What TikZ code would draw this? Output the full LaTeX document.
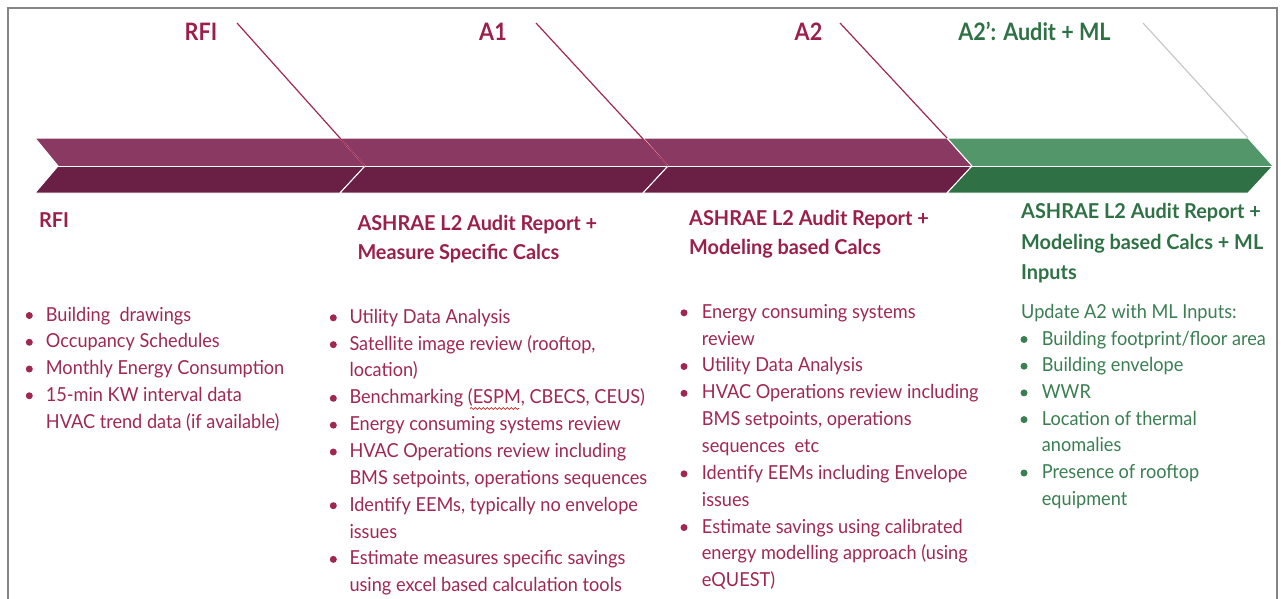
\documentclass[tikz,border=0pt]{standalone}
\usepackage{fontspec}
\setmainfont{Lato}
\newfontfamily\bodyfont{Lato}[FakeStretch=0.94]
\newfontfamily\headfont{Lato}[FakeStretch=0.97]
\newfontfamily\condfont{Lato}[FakeStretch=0.9]
\usetikzlibrary{decorations.pathmorphing}

\definecolor{plum}{HTML}{8A3A62}
\definecolor{plumdark}{HTML}{6A2045}
\definecolor{sage}{HTML}{529669}
\definecolor{forest}{HTML}{2F7145}
\definecolor{crimson}{HTML}{A02850}
\definecolor{crimsonhead}{HTML}{9B1F49}
\definecolor{greentext}{HTML}{3A7E52}
\definecolor{greenhead}{HTML}{2E7145}
\definecolor{framegray}{HTML}{858585}
\definecolor{leadgray}{HTML}{C8C8C8}

\tikzset{
  bodytext/.style={anchor=base west, inner sep=0pt, font=\bodyfont\fontsize{19.3}{23}\selectfont},
  headtext/.style={anchor=base west, inner sep=0pt, font=\headfont\fontsize{20.5}{24}\selectfont\bfseries},
  stagelabel/.style={anchor=base, inner sep=0pt, font=\condfont\bfseries\fontsize{24}{24}\selectfont},
  dotbullet/.style={circle, fill, inner sep=0pt, minimum size=7pt},
  bandhalf/.style={draw=white, line width=1pt, line join=miter},
  leader/.style={line width=1.2pt, crimson},
}

% one chevron segment: #1 left top x, #2 left notch x, #3 right top x, #4 tip x, #5 top colour, #6 bottom colour
\newcommand\chevseg[6]{%
  \fill[#5] (#1,138) -- (#3,138) -- (#4,166) -- (#2,166) -- cycle;
  \fill[#6] (#2,166) -- (#4,166) -- (#3,193) -- (#1,193) -- cycle;
  \draw[bandhalf] (#1,138) -- (#3,138) -- (#4,166) -- (#3,193) -- (#1,193) -- (#2,166) -- cycle;
  \draw[bandhalf] (#2,166) -- (#4,166);
}

\begin{document}
\begin{tikzpicture}[x=1pt, y=-1pt]
\useasboundingbox (0,0) rectangle (1281,598);

% outer frame (open at the bottom)
\draw[framegray, line width=2pt] (8,610) -- (8,8) -- (1277,8) -- (1277,610);

% timeline band
\chevseg{35}{58}{340}{365}{plum}{plumdark}
\chevseg{340}{365}{643}{668}{plum}{plumdark}
\chevseg{643}{668}{947}{972}{plum}{plumdark}
\chevseg{947}{972}{1248}{1273}{sage}{forest}

\coordinate (tip1) at (365,166);
\coordinate (tip2) at (668,166);
\coordinate (corner3) at (947,138);
\coordinate (corner4) at (1248,138);

% stage labels and their leaders
\node[stagelabel, crimsonhead] (lblRFI) at (201,40) {RFI};
\node[stagelabel, crimsonhead] (lblA1) at (493,40) {A1};
\node[stagelabel, crimsonhead] (lblA2) at (808.5,40) {A2};
\node[stagelabel, greenhead] (lblA2p) at (1034.5,40) {A2’: Audit + ML};

\coordinate (lead1) at (237,23);
\coordinate (lead2) at (536,23);
\coordinate (lead3) at (840,23);
\coordinate (lead4) at (1143,23);
\draw[leader] (lead1) -- (tip1);
\draw[leader] (lead2) -- (tip2);
\draw[leader] (lead3) -- (corner3);
\draw[line width=1.2pt, leadgray] (lead4) -- (corner4);

% column 1: RFI
\node[headtext, crimsonhead] (h1a) at (39,227.3) {RFI};
\foreach \b/\t [count=\i from 0] in {1/{Building\ \ drawings}, 1/{Occupancy Schedules}, 1/{Monthly Energy Consumption}, 1/{15-min KW interval data}, 0/{HVAC trend data (if available)}}{
  \node[bodytext, crimson] (c1l\i) at (45.7,321+26.75*\i) {\t};
  \ifnum\b=1 \node[dotbullet, crimson] (c1b\i) at (29.3,315.5+26.75*\i) {};\fi
}

% column 2: A1
\node[headtext, crimsonhead] (h2a) at (357.3,230.7) {ASHRAE L2 Audit Report +};
\node[headtext, crimsonhead] (h2b) at (357.3,259.3) {Measure Specific Calcs};
\foreach \b/\t [count=\i from 0] in {1/{Utility Data Analysis}, 1/{Satellite image review (rooftop,}, 0/{location)}, 1/{Benchmarking (ESPM, CBECS, CEUS)}, 1/{Energy consuming systems review}, 1/{HVAC Operations review including}, 0/{BMS setpoints, operations sequences}, 1/{Identify EEMs, typically no envelope}, 0/{issues}, 1/{Estimate measures specific savings}, 0/{using excel based calculation tools}}{
  \node[bodytext, crimson] (c2l\i) at (349.3,323.3+26.84*\i) {\t};
  \ifnum\b=1 \node[dotbullet, crimson] (c2b\i) at (333.3,317.8+26.84*\i) {};\fi
}
% spell-check squiggle under ESPM
\draw[red!80!black, line width=0.6pt, decorate, decoration={snake, amplitude=0.9pt, segment length=4pt}] (470,408.5) -- (519,408.5);

% column 3: A2
\node[headtext, crimsonhead] (h3a) at (689,225) {ASHRAE L2 Audit Report +};
\node[headtext, crimsonhead] (h3b) at (689,254) {Modeling based Calcs};
\foreach \b/\t [count=\i from 0] in {1/{Energy consuming systems}, 0/{review}, 1/{Utility Data Analysis}, 1/{HVAC Operations review including}, 0/{BMS setpoints, operations}, 0/{sequences\ \ etc}, 1/{Identify EEMs including Envelope}, 0/{issues}, 1/{Estimate savings using calibrated}, 0/{energy modelling approach (using}, 0/{eQUEST)}}{
  \node[bodytext, crimson] (c3l\i) at (701.7,318.3+26.84*\i) {\t};
  \ifnum\b=1 \node[dotbullet, crimson] (c3b\i) at (684,312.8+26.84*\i) {};\fi
}

% column 4: A2'
\node[headtext, greenhead] (h4a) at (1021,218.3) {ASHRAE L2 Audit Report +};
\node[headtext, greenhead] (h4b) at (1021,249) {Modeling based Calcs + ML};
\node[headtext, greenhead] (h4c) at (1021,279.5) {Inputs};
\node[bodytext, greentext] (u4) at (1021,318.3) {Update A2 with ML Inputs:};
\foreach \b/\t [count=\i from 0] in {1/{Building footprint/floor area}, 1/{Building envelope}, 1/{WWR}, 1/{Location of thermal}, 0/{anomalies}, 1/{Presence of rooftop}, 0/{equipment}}{
  \node[bodytext, greentext] (c4l\i) at (1041.7,345+26.7*\i) {\t};
  \ifnum\b=1 \node[dotbullet, greentext] (c4b\i) at (1024,339.5+26.7*\i) {};\fi
}
\end{tikzpicture}
\end{document}
